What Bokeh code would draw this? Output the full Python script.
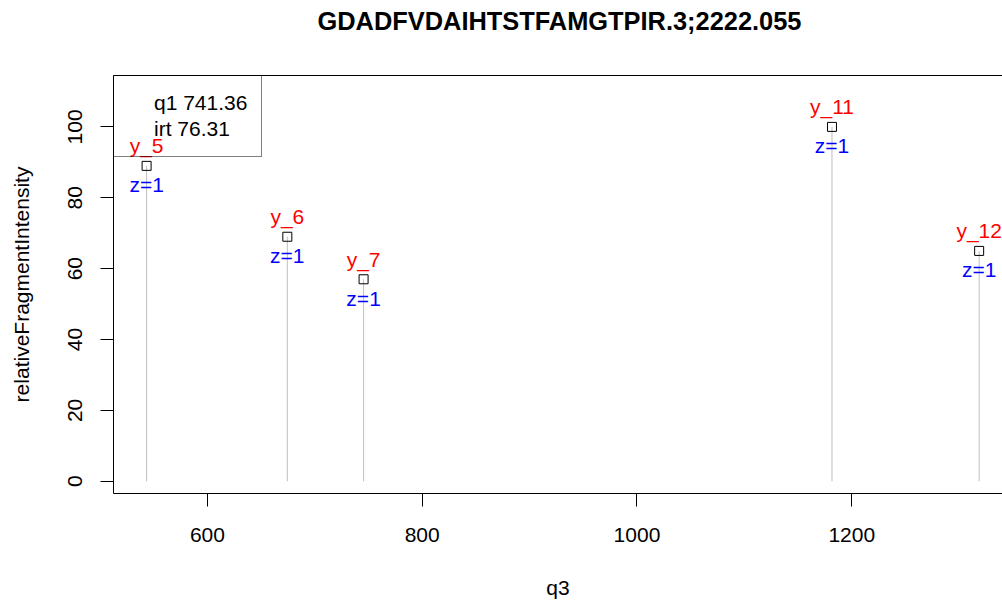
from bokeh.plotting import figure
from bokeh.models import Range1d, FixedTicker, LinearAxis, Legend, LegendItem
from bokeh.core.properties import value
from bokeh.embed import file_html
from bokeh.resources import INLINE

# ---- data ----
title_text = "GDADFVDAIHTSTFAMGTPIR.3;2222.055"
q3 = [543.33, 674.37, 745.40, 1181.60, 1318.66]
intensity = [89, 69, 57, 100, 65]
ion_labels = ["y_5", "y_6", "y_7", "y_11", "y_12"]
charge_labels = ["z=1", "z=1", "z=1", "z=1", "z=1"]
legend_lines = ["q1 741.36", "irt 76.31"]
x_ticks = [600, 800, 1000, 1200]
y_ticks = [0, 20, 40, 60, 80, 100]
x_lim = (512.5, 1340.4)
y_lim = (-3.45, 114.5)
baseline = [0, 0, 0, 0, 0]

FONT = "Liberation Sans"

p = figure(width=1002, height=601, output_backend="svg", toolbar_location=None,
           x_range=Range1d(*x_lim), y_range=Range1d(*y_lim),
           min_border_left=113, min_border_right=0, min_border_top=75, min_border_bottom=106)
p.outline_line_color = None
p.xgrid.visible = False
p.ygrid.visible = False
p.background_fill_color = "white"
p.border_fill_color = "white"

p.title.text = title_text
p.title.text_font = FONT
p.title.text_font_size = "25.4px"
p.title.text_font_style = "bold"
p.title.text_color = "black"
p.title.align = "left"
p.title.offset = 204
p.title.standoff = 0

for ax in (p.xaxis[0], p.yaxis[0]):
    ax.axis_line_color = "black"
    ax.axis_line_width = 1
    ax.major_tick_line_color = "black"
    ax.major_tick_out = 13
    ax.major_tick_in = 0
    ax.minor_tick_line_color = None
    ax.major_label_text_font = FONT
    ax.major_label_text_font_size = "21px"
    ax.major_label_text_color = "black"
    ax.axis_label_text_font = FONT
    ax.axis_label_text_font_size = "21px"
    ax.axis_label_text_font_style = "normal"
    ax.axis_label_text_color = "black"

p.xaxis[0].ticker = FixedTicker(ticks=x_ticks)
p.yaxis[0].ticker = FixedTicker(ticks=y_ticks)
p.xaxis[0].axis_label = "q3"
p.yaxis[0].axis_label = "relativeFragmentIntensity"
p.yaxis[0].major_label_orientation = "vertical"
p.xaxis[0].major_label_standoff = 21
p.yaxis[0].major_label_standoff = 18
p.xaxis[0].axis_label_standoff = 31
p.yaxis[0].axis_label_standoff = 33

# top border of the box, also used as a spacer below the title
top = LinearAxis(ticker=FixedTicker(ticks=[]), major_label_text_font_size="0px",
                 axis_line_color="black", major_tick_line_color=None,
                 minor_tick_line_color=None, major_tick_out=0, major_label_standoff=0,
                 axis_label=" ", axis_label_text_font_size="10px", axis_label_standoff=27)
p.add_layout(top, "above")

# stems
p.segment(x0=q3, y0=baseline, x1=q3, y1=intensity, line_color="#BEBEBE", line_width=1)
# points
p.scatter(q3, intensity, marker="square", size=9, fill_color=None,
          line_color="black", line_width=1)
# labels
p.text(x=q3, y=intensity, text=ion_labels, text_color="red", text_font=value(FONT),
       text_font_size="21px", text_align="center", text_baseline="alphabetic", y_offset=-20)
p.text(x=q3, y=intensity, text=charge_labels, text_color="blue", text_font=value(FONT),
       text_font_size="21px", text_align="center", text_baseline="alphabetic", y_offset=19)

dummy = p.scatter(x=[q3[0]], y=[intensity[0]], alpha=0)
legend = Legend(items=[LegendItem(label=t, renderers=[dummy]) for t in legend_lines],
                location="top_left", margin=0, padding=14, spacing=0,
                label_height=26, glyph_height=26, glyph_width=16, label_standoff=10,
                border_line_color="black", border_line_width=1,
                background_fill_alpha=0,
                label_text_font=FONT, label_text_font_size="21px", label_text_color="black")
p.add_layout(legend)

open("out.html", "w").write(file_html(p, INLINE))
